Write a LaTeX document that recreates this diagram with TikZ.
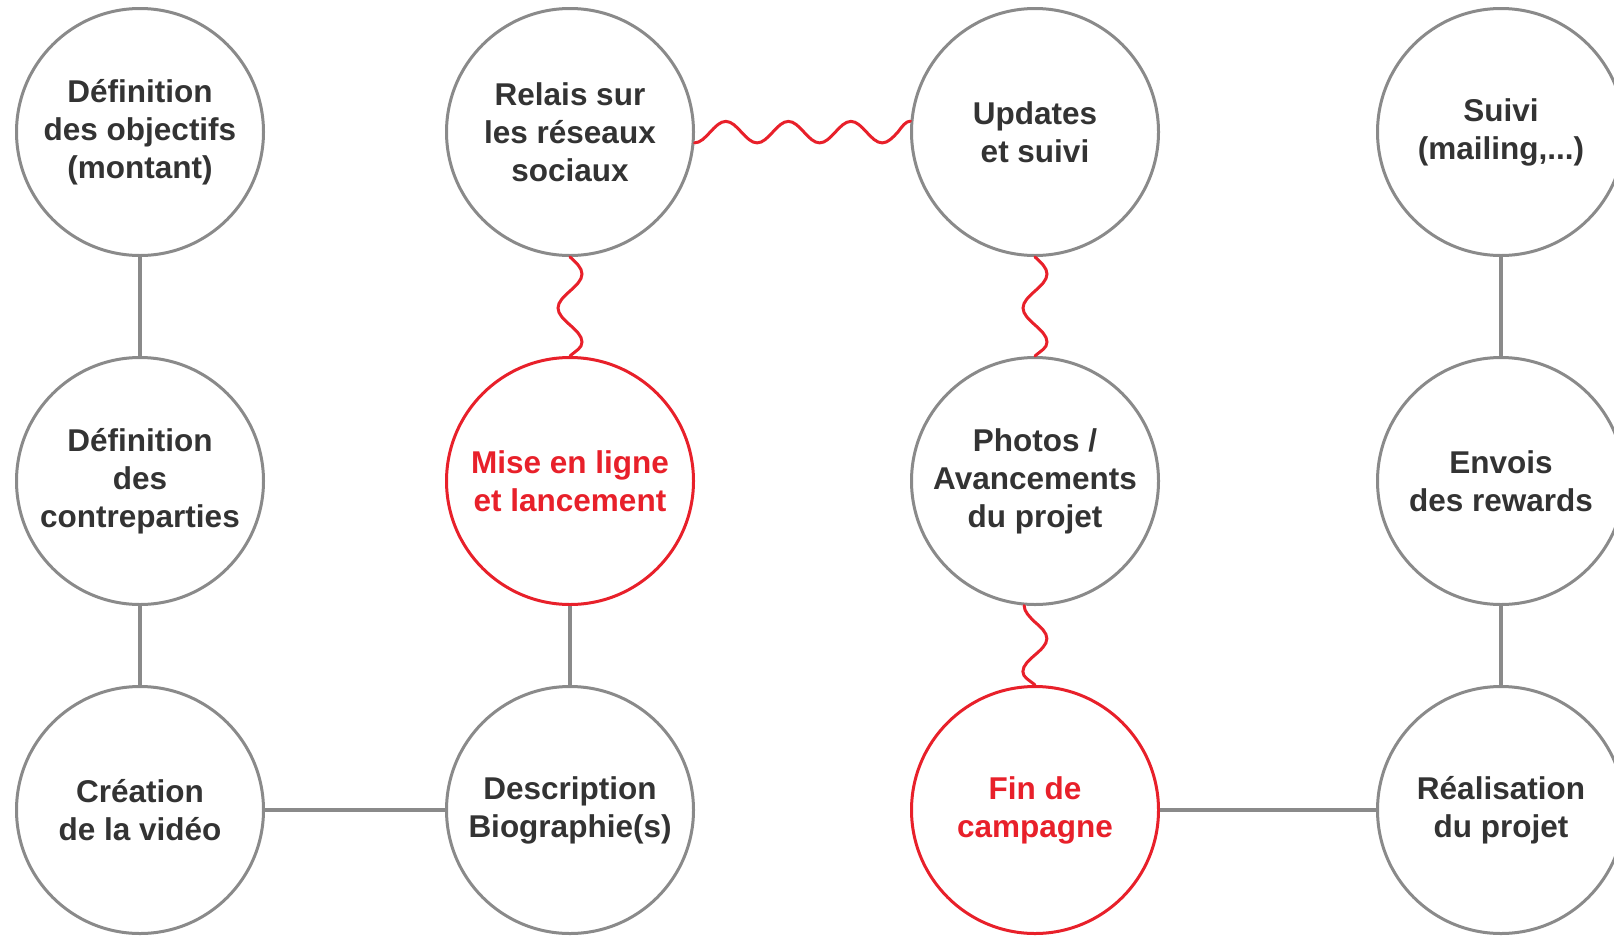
\documentclass[tikz,border=0pt]{standalone}
\usepackage{fontspec}
\setmainfont{Liberation Sans}
\definecolor{cgray}{HTML}{8A8A8A}
\definecolor{cred}{HTML}{E8202A}
\definecolor{ctext}{HTML}{333333}
\begin{document}
\begin{tikzpicture}[x=1pt,y=-1pt,
  bubble/.style={circle, draw=cgray, fill=white, line width=3pt, minimum size=247pt, inner sep=0pt, align=center, font=\fontsize{31.5}{38}\selectfont\bfseries, text=ctext},
  hot/.style={bubble, draw=cred, text=cred},
  link/.style={draw=cgray, line width=4pt},
  wave/.style={draw=cred, line width=3pt, line cap=round}]
\useasboundingbox (0,0) rectangle (1614,937);
\fill[white] (0,0) rectangle (1614,937);
% row 1
\node[bubble] (obj)    at (140,132)  {Définition\\des objectifs\\(montant)};
\node[bubble] (relais) at (570,132)  {Relais sur\\les réseaux\\sociaux};
\node[bubble] (upd)    at (1035,132) {Updates\\et suivi};
\node[bubble] (suivi)  at (1501,132) {Suivi\\(mailing,...)};
% row 2
\node[bubble] (contre) at (140,481)  {Définition\\des\\contreparties};
\node[hot]    (mise)   at (570,481)  {Mise en ligne\\et lancement};
\node[bubble] (photos) at (1035,481) {Photos /\\Avancements\\du projet};
\node[bubble] (envois) at (1501,481) {Envois\\des rewards};
% row 3
\node[bubble] (crea)   at (140,810)  {Création\\de la vidéo};
\node[bubble] (desc)   at (570,810)  {Description\\Biographie(s)};
\node[hot]    (fin)    at (1035,810) {Fin de\\campagne};
\node[bubble] (real)   at (1501,810) {Réalisation\\du projet};
% straight links
\draw[link] (obj.south) -- (contre.north);
\draw[link] (contre.south) -- (crea.north);
\draw[link] (crea.east) -- (desc.west);
\draw[link] (desc.north) -- (mise.south);
\draw[link] (fin.east) -- (real.west);
\draw[link] (suivi.south) -- (envois.north);
\draw[link] (envois.south) -- (real.north);
% wavy links
\draw[wave] (relais.-5)
  cos ++(15.64,-10.76) sin ++(15.64,-10.76) cos ++(15.64,10.76) sin ++(15.64,10.76)
  cos ++(15.64,-10.76) sin ++(15.64,-10.76) cos ++(15.64,10.76) sin ++(15.64,10.76)
  cos ++(15.64,-10.76) sin ++(15.64,-10.76) cos ++(15.64,10.76) sin ++(15.64,10.76)
  cos ++(15.64,-10.76) sin (upd.175);
\draw[wave] (relais.south)
  .. controls +(6,5.41) and +(0,-6.2) .. ++(12,17)
  .. controls +(0,6.2) and +(6,-5.41) .. ++(-12,17)
  .. controls +(-6,5.41) and +(0,-6.2) .. ++(-12,17)
  .. controls +(0,6.2) and +(-6,-5.41) .. ++(12,17)
  .. controls +(6,5.41) and +(0,-6.2) .. ++(12,17)
  .. controls +(0,6.2) and +(6,-5.41) .. (mise.north);
\draw[wave] (upd.south)
  .. controls +(6,5.41) and +(0,-6.2) .. ++(12,17)
  .. controls +(0,6.2) and +(6,-5.41) .. ++(-12,17)
  .. controls +(-6,5.41) and +(0,-6.2) .. ++(-12,17)
  .. controls +(0,6.2) and +(-6,-5.41) .. ++(12,17)
  .. controls +(6,5.41) and +(0,-6.2) .. ++(12,17)
  .. controls +(0,6.2) and +(6,-5.41) .. (photos.north);
\draw[wave] (photos.265)
  .. controls +(0,6.02) and +(-5.38,-5.25) .. ++(10.76,16.5)
  .. controls +(6,5.25) and +(0,-6.02) .. ++(12,16.5)
  .. controls +(0,6.02) and +(6,-5.25) .. ++(-12,16.5)
  .. controls +(-6,5.25) and +(0,-6.02) .. ++(-12,16.5)
  .. controls +(0,6.02) and +(-6,-5.25) .. (fin.north);
\end{tikzpicture}
\end{document}
